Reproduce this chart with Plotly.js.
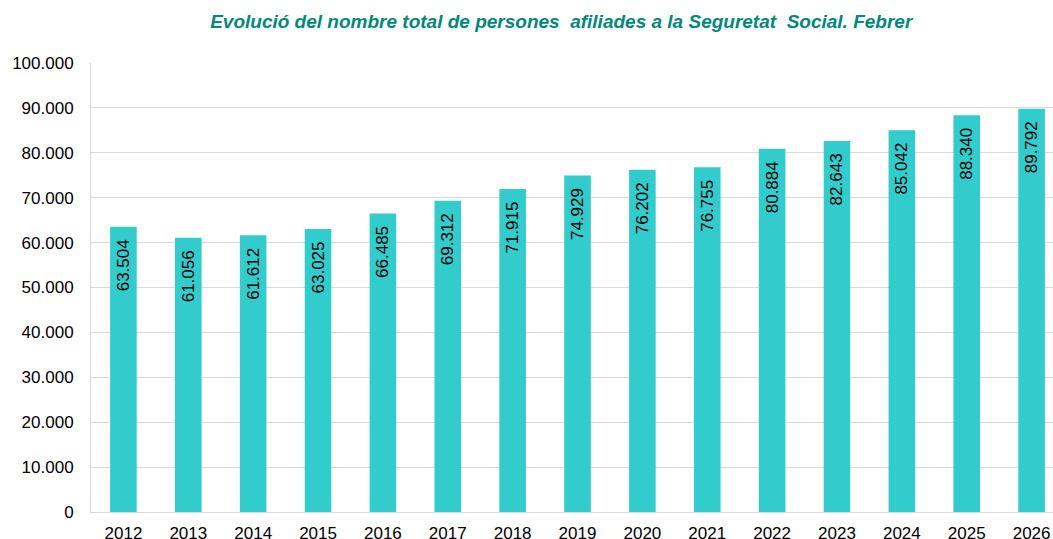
<!DOCTYPE html>
<html><head><meta charset="utf-8">
<script src="https://cdn.plot.ly/plotly-3.0.1.min.js"></script>
<style>html,body{margin:0;padding:0;overflow:hidden;background:#fff}</style>
</head><body>
<div id="chart"></div>
<script>
const years = ['2012','2013','2014','2015','2016','2017','2018','2019','2020','2021','2022','2023','2024','2025','2026'];
const affiliates = [63504, 61056, 61612, 63025, 66485, 69312, 71915, 74929, 76202, 76755, 80884, 82643, 85042, 88340, 89792];
const yTicks = [0,10000,20000,30000,40000,50000,60000,70000,80000,90000,100000];
const titleText = 'Evolució del nombre total de persones  afiliades a la Seguretat  Social. Febrer';

const trace = {
  type: 'bar',
  x: years,
  y: affiliates,
  marker: {color: '#33CCCC', line: {width: 0}},
  texttemplate: '%{y:,.0f}\u00A0\u00A0',
  textposition: 'inside',
  insidetextanchor: 'end',
  textangle: -90,
  insidetextfont: {family: 'Liberation Sans, Arial, sans-serif', size: 17, color: '#000'},
  constraintext: 'none',
  cliponaxis: false,
  hoverinfo: 'none'
};

const layout = {
  width: 1053,
  height: 560,
  margin: {l: 91, r: 0, t: 63, b: 48},
  separators: ',.',
  bargap: 0.59,
  paper_bgcolor: '#fff',
  plot_bgcolor: '#fff',
  showlegend: false,
  font: {family: 'Liberation Sans, Arial, sans-serif', size: 17, color: '#000'},
  title: {
    text: '<b><i>' + titleText + '</i></b>',
    font: {family: 'Liberation Sans, Arial, sans-serif', size: 19, color: '#00897B'},
    x: 0.533, xanchor: 'center', y: 0.961, yanchor: 'middle'
  },
  xaxis: {
    type: 'category',
    range: [-0.5, 14.33],
    showgrid: false,
    showline: true, linecolor: '#D9D9D9', linewidth: 1,
    ticks: '', ticklabelstandoff: 6,
    tickfont: {size: 17}
  },
  yaxis: {
    range: [0, 100000],
    tickvals: yTicks,
    tickformat: ',.0f',
    showgrid: true, gridcolor: '#D9D9D9', gridwidth: 1,
    showline: true, linecolor: '#D9D9D9', linewidth: 1,
    zeroline: false,
    ticks: '', ticklabelstandoff: 13,
    tickfont: {size: 17}
  }
};

Plotly.newPlot('chart', [trace], layout, {displayModeBar: false, staticPlot: true});
</script>
</body></html>
